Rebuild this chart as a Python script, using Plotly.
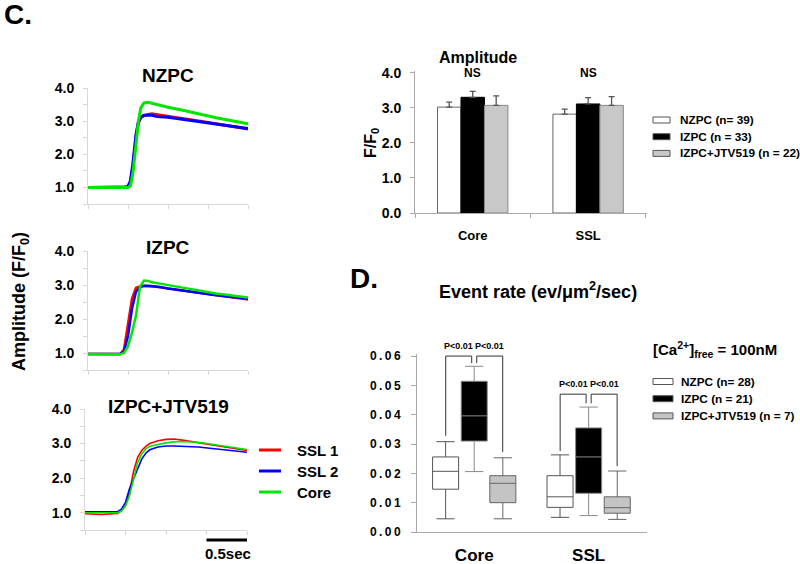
import plotly.graph_objects as go

W, H = 800, 564
FONT = "Liberation Sans, Arial, sans-serif"


def X(px):
    return px / W


def Y(py):
    return 1 - py / H


# ---------------- Panel C: averaged transients ----------------
trace_names = ["SSL 1", "SSL 2", "Core"]
trace_colors = ["#ff0000", "#0000ff", "#00e600"]

nzpc_t = [0, 0.45, 0.5, 0.53, 0.56, 0.6, 0.63, 0.66, 0.7, 0.75, 0.8, 0.85, 0.9, 1.0, 1.2, 1.4, 1.6, 1.8, 2.0]
nzpc_ssl1 = [1.0, 1.0, 1.02, 1.15, 1.6, 2.5, 2.95, 3.1, 3.17, 3.2, 3.22, 3.2, 3.18, 3.14, 3.07, 3.0, 2.92, 2.85, 2.76]
nzpc_ssl2 = [1.0, 1.0, 1.03, 1.2, 1.7, 2.6, 2.98, 3.12, 3.18, 3.19, 3.18, 3.15, 3.13, 3.12, 3.05, 2.97, 2.9, 2.84, 2.78]
nzpc_core = [1.0, 1.0, 1.0, 1.05, 1.4, 2.3, 3.0, 3.4, 3.55, 3.57, 3.54, 3.5, 3.47, 3.42, 3.32, 3.2, 3.1, 3.01, 2.92]

izpc_t = [0, 0.2, 0.4, 0.45, 0.5, 0.55, 0.6, 0.65, 0.7, 0.75, 0.8, 0.9, 1.0, 1.2, 1.4, 1.6, 1.8, 2.0]
izpc_ssl1 = [0.97, 0.96, 0.97, 1.1, 1.8, 2.6, 2.92, 2.96, 2.97, 2.97, 2.96, 2.93, 2.9, 2.82, 2.76, 2.7, 2.64, 2.57]
izpc_ssl2 = [0.97, 0.96, 0.97, 1.05, 1.5, 2.3, 2.8, 2.94, 2.98, 2.98, 2.97, 2.94, 2.9, 2.83, 2.76, 2.7, 2.65, 2.6]
izpc_core = [0.97, 0.96, 0.96, 1.0, 1.2, 1.6, 2.1, 2.95, 3.13, 3.12, 3.08, 3.04, 3.0, 2.9, 2.82, 2.75, 2.69, 2.63]

jtv_t = [0, 0.2, 0.4, 0.45, 0.5, 0.55, 0.6, 0.65, 0.7, 0.75, 0.8, 0.9, 1.0, 1.1, 1.2, 1.4, 1.6, 1.8, 2.0]
jtv_ssl1 = [0.97, 0.95, 0.98, 1.05, 1.2, 1.6, 2.2, 2.6, 2.8, 2.92, 3.0, 3.08, 3.12, 3.13, 3.1, 3.03, 2.95, 2.88, 2.8]
jtv_ssl2 = [1.03, 1.02, 1.03, 1.1, 1.3, 1.7, 2.0, 2.3, 2.55, 2.72, 2.82, 2.9, 2.93, 2.93, 2.92, 2.9, 2.85, 2.8, 2.75]
jtv_core = [1.0, 0.99, 1.0, 1.05, 1.2, 1.5, 2.0, 2.45, 2.7, 2.85, 2.92, 2.98, 3.02, 3.05, 3.06, 3.04, 2.97, 2.9, 2.83]

panel_titles = ["NZPC", "IZPC", "IZPC+JTV519"]
amp_ticks = [1.0, 2.0, 3.0, 4.0]
amp_minor_ticks = [0.5, 1.5, 2.5, 3.5]
time_ticks = [0, 0.5, 1.0, 1.5, 2.0]
scale_bar = [1.5, 2.0]
scale_label = "0.5sec"

# ---------------- Amplitude bars ----------------
regions = ["Core", "SSL"]
amp_groups = ["NZPC (n= 39)", "IZPC (n = 33)", "IZPC+JTV519 (n = 22)"]
amp_nzpc = [3.02, 2.82]
amp_nzpc_err = [0.14, 0.14]
amp_izpc = [3.30, 3.11]
amp_izpc_err = [0.17, 0.18]
amp_jtv = [3.07, 3.07]
amp_jtv_err = [0.27, 0.25]
amp_sig = ["NS", "NS"]
bar_ticks = [0.0, 1.0, 2.0, 3.0, 4.0]

# ---------------- Event rate box plot ----------------
rate_groups = ["NZPC (n= 28)", "IZPC (n = 21)", "IZPC+JTV519 (n = 7)"]
nzpc_low = [0.0045, 0.0050]
nzpc_q1 = [0.0146, 0.0084]
nzpc_med = [0.0207, 0.0120]
nzpc_q3 = [0.0256, 0.0192]
nzpc_high = [0.0308, 0.0263]
izpc_low = [0.0206, 0.0056]
izpc_q1 = [0.0310, 0.0132]
izpc_med = [0.0396, 0.0256]
izpc_q3 = [0.0514, 0.0355]
izpc_high = [0.0565, 0.0426]
jtv_low = [0.0045, 0.0043]
jtv_q1 = [0.0100, 0.0064]
jtv_med = [0.0166, 0.0083]
jtv_q3 = [0.0192, 0.0120]
jtv_high = [0.0253, 0.0208]
rate_ticks = [0.0, 0.01, 0.02, 0.03, 0.04, 0.05, 0.06]
rate_ticktext = ["0\u2009.\u20090\u20090", "0\u2009.\u20090\u20091", "0\u2009.\u20090\u20092", "0\u2009.\u20090\u20093",
                 "0\u2009.\u20090\u20094", "0\u2009.\u20090\u20095", "0\u2009.\u20090\u20096"]
# significance brackets: [left leg bottom, bracket top, middle leg bottom, right leg bottom]
bracket_core = [0.0328, 0.0600, 0.0576, 0.0273]
bracket_ssl = [0.0276, 0.0470, 0.0439, 0.0225]
sig_label = "P<0.01"

fig = go.Figure()


def note(text, px, py, size, xanchor="center", angle=0):
    return dict(text=text, x=X(px), y=Y(py), xref="paper", yref="paper", xanchor=xanchor,
                yanchor="middle", textangle=angle, showarrow=False,
                font=dict(family=FONT, size=size, color="black"))


# ---- transient panels ----
panels = [
    (nzpc_t, [nzpc_ssl1, nzpc_ssl2, nzpc_core], 3.0, (88, 248), (88, 204), 75),
    (izpc_t, [izpc_ssl1, izpc_ssl2, izpc_core], 2.5, (88, 248), (251, 370), 248),
    (jtv_t, [jtv_ssl1, jtv_ssl2, jtv_core], 1.6, (85, 247), (409, 530), 406),
]
layout_axes = {}
annotations = []
shapes = []
for i, (t, series, lw, (x0, x1), (ytop, ybot), ty) in enumerate(panels):
    n = i + 1
    xa = "x" if n == 1 else f"x{n}"
    ya = "y" if n == 1 else f"y{n}"
    for name, col, vals in zip(trace_names, trace_colors, series):
        fig.add_trace(go.Scatter(x=t, y=vals, mode="lines", name=name,
                                 line=dict(color=col, width=lw),
                                 xaxis=xa, yaxis=ya, showlegend=False))
    layout_axes["xaxis" if n == 1 else f"xaxis{n}"] = dict(
        domain=[X(x0), X(x1)], anchor=ya, range=[0, 2.0], automargin=False,
        tickvals=time_ticks, showticklabels=False, ticks="outside", ticklen=4,
        tickcolor="#d8d8d8", showline=True, linecolor="#d8d8d8", showgrid=False, zeroline=False)
    layout_axes["yaxis" if n == 1 else f"yaxis{n}"] = dict(
        domain=[Y(ybot), Y(ytop)], anchor=xa, range=[0.5, 4.0], automargin=False,
        tickvals=amp_ticks, ticktext=[f"{v:.1f}" for v in amp_ticks], ticks="outside", ticklen=4,
        minor=dict(tickvals=amp_minor_ticks, ticks="outside", ticklen=4, tickcolor="#d8d8d8"),
        tickcolor="#d8d8d8", showline=True, linecolor="#d8d8d8", showgrid=False, zeroline=False,
        ticklabelstandoff=6, tickfont=dict(family=FONT, size=14, color="black", weight="bold"))
    annotations.append(note(f"<b>{panel_titles[i]}</b>", 168, ty, 19))

# scale bar
shapes.append(dict(type="line", xref="x3", yref="paper", x0=scale_bar[0], x1=scale_bar[1],
                   y0=Y(540), y1=Y(540), line=dict(color="black", width=3)))
annotations.append(note(f"<b>{scale_label}</b>", 228, 553, 15))

# trace legend
for k, (name, col) in enumerate(zip(trace_names, trace_colors)):
    yy = 450 + k * 21
    shapes.append(dict(type="line", xref="paper", yref="paper", x0=X(259), x1=X(281),
                       y0=Y(yy), y1=Y(yy), line=dict(color=col, width=3)))
    annotations.append(note(f"<b>{name}</b>", 295, yy, 15, xanchor="left"))

annotations.append(note("<b>Amplitude (F/F<sub>0</sub>)</b>", 20, 302, 18, angle=-90))
annotations.append(note("<b>C.</b>", 2, 15, 28, xanchor="left"))

# ---- amplitude bars ----
bar_specs = [
    (amp_groups[0], amp_nzpc, amp_nzpc_err, "white", "#666666"),
    (amp_groups[1], amp_izpc, amp_izpc_err, "black", "black"),
    (amp_groups[2], amp_jtv, amp_jtv_err, "#c8c8c8", "#888888"),
]
for name, vals, err, fill, edge in bar_specs:
    fig.add_trace(go.Bar(x=regions, y=vals, name=name, marker=dict(color=fill, line=dict(color=edge, width=1)),
                         error_y=dict(type="data", array=err, arrayminus=[0] * len(err), symmetric=False,
                                      color="#555555", thickness=1.3, width=3),
                         xaxis="x4", yaxis="y4", showlegend=False))
layout_axes["xaxis4"] = dict(domain=[X(415), X(647)], anchor="y4", range=[-0.5, 1.51], type="category",
                             automargin=False,
                             showline=True, linecolor="#aaaaaa", ticks="outside", tickson="boundaries",
                             ticklen=4, tickcolor="#aaaaaa", ticklabelstandoff=10,
                             tickfont=dict(family=FONT, size=13, color="black", weight="bold"))
layout_axes["yaxis4"] = dict(domain=[Y(213), Y(71)], anchor="x4", range=[0, 4.05], tickvals=bar_ticks,
                             automargin=False,
                             ticktext=[f"{v:.1f}" for v in bar_ticks], showline=True, linecolor="#aaaaaa",
                             ticks="outside", ticklen=4, tickcolor="#aaaaaa", showgrid=False, zeroline=False,
                             ticklabelstandoff=6,
                             tickfont=dict(family=FONT, size=14, color="black", weight="bold"))
for k, s in enumerate(amp_sig):
    annotations.append(dict(text=f"<b>{s}</b>", x=k, y=Y(73), xref="x4", yref="paper", showarrow=False,
                            xanchor="center", yanchor="middle",
                            font=dict(family=FONT, size=12, color="black")))
annotations.append(note("<b>Amplitude</b>", 478, 57, 16))
annotations.append(note("<b>F/F<sub>0</sub></b>", 372, 143, 16, angle=-90))
for k, (name, vals, err, fill, edge) in enumerate(bar_specs):
    yy = 120 + k * 16.7
    shapes.append(dict(type="rect", xref="paper", yref="paper", x0=X(653), x1=X(670), y0=Y(yy - 3),
                       y1=Y(yy + 3), fillcolor=fill, line=dict(color="#555555", width=1)))
    annotations.append(note(f"<b>{name}</b>", 678, yy, 11.8, xanchor="left"))

# ---- event-rate box plot ----
box_specs = [
    (rate_groups[0], nzpc_low, nzpc_q1, nzpc_med, nzpc_q3, nzpc_high, "white", "#555555"),
    (rate_groups[1], izpc_low, izpc_q1, izpc_med, izpc_q3, izpc_high, "black", "#8a8a8a"),
    (rate_groups[2], jtv_low, jtv_q1, jtv_med, jtv_q3, jtv_high, "#c4c4c4", "#666666"),
]
for name, lo, q1, med, q3, hi, fill, edge in box_specs:
    fig.add_trace(go.Box(x=regions, q1=q1, median=med, q3=q3, lowerfence=lo, upperfence=hi, name=name,
                         fillcolor=fill, line=dict(color=edge, width=1), whiskerwidth=0.7,
                         xaxis="x5", yaxis="y5", showlegend=False, boxpoints=False))
layout_axes["xaxis5"] = dict(domain=[X(417), X(647)], anchor="y5", range=[-0.5, 1.51], type="category",
                             automargin=False,
                             showline=True, linecolor="#aaaaaa", ticks="", ticklabelstandoff=8,
                             tickfont=dict(family=FONT, size=17, color="black", weight="bold"))
layout_axes["yaxis5"] = dict(domain=[Y(532), Y(354)], anchor="x5", range=[0, 0.0607], tickvals=rate_ticks,
                             automargin=False,
                             ticktext=rate_ticktext, showline=True, linecolor="#aaaaaa", ticks="outside",
                             ticklen=5, tickcolor="#aaaaaa", showgrid=False, zeroline=False,
                             ticklabelstandoff=8,
                             tickfont=dict(family=FONT, size=12, color="black", weight="bold"))

slot = 0.249
gap = 0.022
for k, br in enumerate([bracket_core, bracket_ssl]):
    lb, top, mb, rb = br
    left_x, mid_x, right_x = k - slot, k, k + slot
    shapes.append(dict(type="path", xref="x5", yref="y5",
                       path=f"M {left_x},{lb} L {left_x},{top} L {mid_x - gap},{top} L {mid_x - gap},{mb}",
                       line=dict(color="#333333", width=1)))
    shapes.append(dict(type="path", xref="x5", yref="y5",
                       path=f"M {mid_x + gap},{mb} L {mid_x + gap},{top} L {right_x},{top} L {right_x},{rb}",
                       line=dict(color="#333333", width=1)))
    for cx in [(left_x + mid_x - gap) / 2, (mid_x + gap + right_x) / 2]:
        annotations.append(dict(text=f"<b>{sig_label}</b>", x=cx, y=top, xref="x5", yref="y5",
                                xanchor="center", yanchor="middle",
                                yshift=10, showarrow=False, font=dict(family=FONT, size=9, color="black")))

annotations.append(note("<b>Event rate (ev/μm<sup>2</sup>/sec)</b>", 538, 290, 18))
annotations.append(note("<b>D.</b>", 380, 278, 28, xanchor="right"))
annotations.append(note("<b>[Ca<sup>2+</sup>]<sub>free</sub> = 100nM</b>", 651, 349, 15, xanchor="left"))
for k, (name, lo, q1, med, q3, hi, fill, edge) in enumerate(box_specs):
    yy = 381.5 + k * 17.2
    shapes.append(dict(type="rect", xref="paper", yref="paper", x0=X(653), x1=X(673), y0=Y(yy - 3),
                       y1=Y(yy + 3), fillcolor=fill, line=dict(color="#555555", width=1)))
    annotations.append(note(f"<b>{name}</b>", 679, yy, 11.8, xanchor="left"))

fig.update_layout(
    width=W, height=H, margin=dict(l=0, r=0, t=0, b=0, autoexpand=False),
    paper_bgcolor="white", plot_bgcolor="white",
    barmode="group", bargap=0.39, bargroupgap=0.0,
    boxmode="group", boxgap=0.25, boxgroupgap=0.09,
    font=dict(family=FONT, color="black"),
    showlegend=False,
    annotations=annotations, shapes=shapes,
    **layout_axes,
)

fig.write_html("out.html", config={"displayModeBar": False},
               post_script="document.body.style.margin='0';document.body.style.overflow='hidden';")
